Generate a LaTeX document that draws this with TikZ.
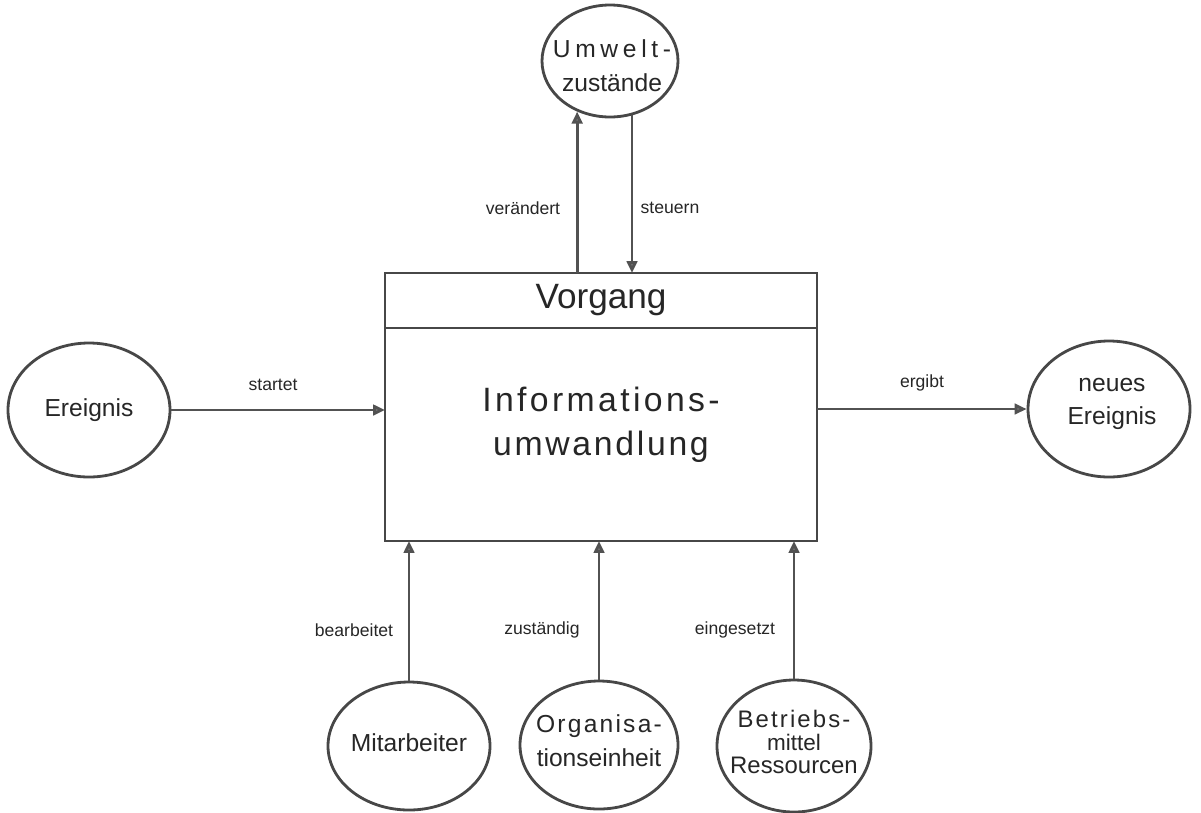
\documentclass[tikz,border=0pt]{standalone}
\usepackage{fontspec}
\setmainfont{Liberation Sans}
\usetikzlibrary{arrows.meta,shapes.geometric}

% one unit of the drawing grid
\newcommand\pxu{0.025cm}
\newcommand\ovaltext{\fontsize{17.5}{24}\selectfont}
\newcommand\labeltext{\fontsize{12.5}{15}\selectfont}
\newcommand\boxtext{\fontsize{24}{31}\selectfont}
\newcommand\spaced[2]{{\addfontfeature{LetterSpace=#1}#2}}

\begin{document}
\begin{tikzpicture}[x=0.025cm,y=-0.025cm,
  ink/.style={draw=black!72, line width=2pt},
  oval/.style={ellipse, ink, inner sep=0pt},
  conn/.style={draw=black!68, line width=2pt,
    -{Triangle[length=8.5pt,width=7.5pt,fill=black!55]}},
  lbl/.style={font=\labeltext, text=black!85},
  ovtxt/.style={font=\ovaltext, align=center, text=black!85},
]
\useasboundingbox (0,0) rectangle (1201,812);

% central process box: header and body share one border line
\node[ink, rectangle, minimum width=432*\pxu, minimum height=55*\pxu,
      inner sep=0pt, outer sep=0pt, font=\fontsize{25}{31}\selectfont,
      text=black!85] (head) at (601,300.5) {Vorgang};
\node[ink, rectangle, minimum width=432*\pxu, minimum height=213*\pxu,
      inner sep=0pt, outer sep=0pt, anchor=north] (body) at (head.south) {};
\node[font=\boxtext, align=center, text=black!85] (bodytxt) at (601,425)
  {\spaced{10}{Informations-}\\\spaced{8}{umwandlung}};

% surrounding objects
\node[oval, minimum width=136*\pxu, minimum height=112*\pxu] (umw) at (610,61) {};
\node[ovtxt] (umwtxt) at (612,66) {\spaced{19}{Umwelt-}\\zustände};

\node[oval, minimum width=162*\pxu, minimum height=134*\pxu] (ev) at (89,410) {};
\node[ovtxt] (evtxt) at (89,410) {Ereignis};

\node[oval, minimum width=162*\pxu, minimum height=136*\pxu] (neu) at (1109,409) {};
\node[ovtxt] (neutxt) at (1112,404) {neues\\Ereignis};

\node[oval, minimum width=162*\pxu, minimum height=128*\pxu] (mit) at (409,746) {};
\node[ovtxt] (mittxt) at (409,743) {Mitarbeiter};

\node[oval, minimum width=158*\pxu, minimum height=128*\pxu] (org) at (599,745) {};
\node[ovtxt] (orgtxt) at (599,741) {\spaced{9}{Organisa-}\\tionseinheit};

\node[oval, minimum width=154*\pxu, minimum height=132*\pxu] (bm) at (794,746) {};
\node[ovtxt, font=\fontsize{17}{16.5}\selectfont] (bmtxt) at (794,742)
  {\spaced{9}{Betriebs-}\\{\fontsize{16}{16.5}\selectfont mittel}\\Ressourcen};

% connectors
\draw[conn] (umw.237 |- head.north) -- (umw.237);
\draw[conn] (umw.292.5) -- (umw.292.5 |- head.north);
\draw[conn] (ev.east) -- (ev.east -| body.west);
\draw[conn] (body.east |- neu.west) -- (neu.west);
\draw[conn] (mit.north) -- (mit.north |- body.south);
\draw[conn] (org.north) -- (org.north |- body.south);
\draw[conn] (bm.north) -- (bm.north |- body.south);

% connector labels
\node[lbl] (l-ver) at (523,208) {verändert};
\node[lbl] (l-ste) at (670,208) {steuern};
\node[lbl] (l-sta) at (273,385) {startet};
\node[lbl] (l-erg) at (922,383) {ergibt};
\node[lbl] (l-bea) at (354,630) {bearbeitet};
\node[lbl] (l-zus) at (542,630) {zuständig};
\node[lbl] (l-ein) at (735,630) {eingesetzt};
\end{tikzpicture}
\end{document}
